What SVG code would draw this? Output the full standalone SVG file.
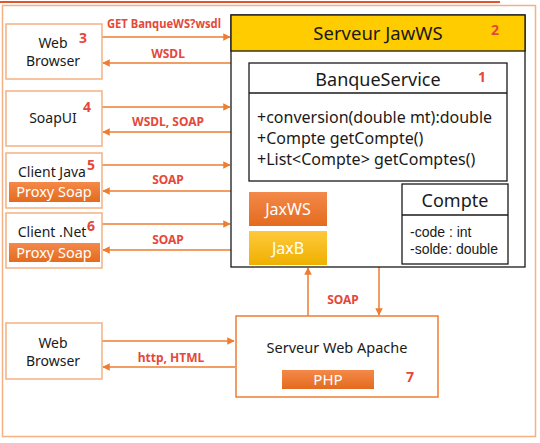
<svg xmlns="http://www.w3.org/2000/svg" width="540" height="443" viewBox="0 0 540 443">
<defs>
<style>
text{font-family:"Noto Sans","Open Sans","DejaVu Sans",sans-serif;fill:#1a1a1a}
.lbl{font-size:12px;font-weight:bold;fill:#e5483a;text-anchor:middle}
.num{font-size:14px;font-weight:bold;fill:#e5483a}
.nd{font-size:14px;text-anchor:middle}
.wt{fill:#ffffff;text-anchor:middle}
.cbox{fill:#ffffff;stroke:#f4b183;stroke-width:1.5}
.conn{stroke:#ed7d31;stroke-width:1.5;fill:none;marker-end:url(#ah)}
.blk{fill:#ffffff;stroke:#1a1a1a;stroke-width:1.3}
.attr{font-family:"Liberation Sans","Noto Sans",sans-serif;font-size:14px}
</style>
<marker id="ah" viewBox="0 0 10 10" refX="9" refY="5" markerWidth="5" markerHeight="5" orient="auto" markerUnits="strokeWidth">
<path d="M0,0 L10,5 L0,10 z" fill="#ed7d31"/>
</marker>
<linearGradient id="og" x1="0" y1="0" x2="0" y2="1">
<stop offset="0" stop-color="#f4894a"/>
<stop offset="1" stop-color="#e36b1e"/>
</linearGradient>
<linearGradient id="yg" x1="0" y1="0" x2="0" y2="1">
<stop offset="0" stop-color="#ffc93c"/>
<stop offset="1" stop-color="#eeb000"/>
</linearGradient>
</defs>
<rect x="0" y="0" width="540" height="443" fill="#ffffff"/>
<rect x="2.5" y="5.5" width="533" height="431" fill="#ffffff" stroke="#f4b183" stroke-width="1.5"/>
<line x1="0" y1="2" x2="500" y2="2" stroke="#e0552b" stroke-width="2"/>

<g id="connectors">
<line class="conn" x1="102" y1="37" x2="230" y2="37"/>
<line class="conn" x1="231" y1="63" x2="103" y2="63"/>
<line class="conn" x1="102" y1="107" x2="230" y2="107"/>
<line class="conn" x1="231" y1="132" x2="103" y2="132"/>
<line class="conn" x1="102" y1="165" x2="230" y2="165"/>
<line class="conn" x1="231" y1="191" x2="103" y2="191"/>
<line class="conn" x1="102" y1="224" x2="230" y2="224"/>
<line class="conn" x1="231" y1="250" x2="103" y2="250"/>
<line class="conn" x1="308" y1="316" x2="308" y2="268"/>
<line class="conn" x1="379" y1="267" x2="379" y2="315"/>
<line class="conn" x1="102" y1="341" x2="234" y2="341"/>
<line class="conn" x1="235" y1="367" x2="103" y2="367"/>
<text class="lbl" x="164" y="28" textLength="114" lengthAdjust="spacingAndGlyphs">GET BanqueWS?wsdl</text>
<text class="lbl" x="168" y="57.5">WSDL</text>
<text class="lbl" x="168" y="125.5">WSDL, SOAP</text>
<text class="lbl" x="168" y="183.5">SOAP</text>
<text class="lbl" x="168" y="243.5">SOAP</text>
<text class="lbl" x="343" y="303.5">SOAP</text>
<text class="lbl" x="171" y="361.5">http, HTML</text>
</g>

<g id="webbrowser1">
<rect class="cbox" x="6" y="24" width="96" height="55"/>
<text class="nd" x="53" y="48">Web</text>
<text class="nd" x="53" y="66">Browser</text>
<text class="num" x="79" y="43">3</text>
</g>

<g id="soapui">
<rect class="cbox" x="6" y="91" width="96" height="55"/>
<text class="nd" x="53" y="123">SoapUI</text>
<text class="num" x="83" y="112">4</text>
</g>

<g id="clientjava">
<rect class="cbox" x="6" y="153" width="96" height="55"/>
<text class="nd" x="52" y="177">Client Java</text>
<text class="num" x="87" y="170">5</text>
<rect x="9" y="182" width="91" height="20" fill="url(#og)"/>
<text class="wt" x="54" y="197" style="font-size:14.5px">Proxy Soap</text>
</g>

<g id="clientnet">
<rect class="cbox" x="6" y="213" width="96" height="55"/>
<text class="nd" x="52" y="237">Client .Net</text>
<text class="num" x="87" y="231">6</text>
<rect x="9" y="243" width="91" height="19" fill="url(#og)"/>
<text class="wt" x="54" y="257.5" style="font-size:14.5px">Proxy Soap</text>
</g>

<g id="serveurjawws">
<rect class="blk" x="231" y="15" width="294" height="252"/>
<rect x="231" y="15" width="294" height="36" fill="#ffcc00" stroke="#1a1a1a" stroke-width="1.3"/>
<text x="378" y="39.5" style="font-size:18.5px;text-anchor:middle">Serveur JawWS</text>
<text class="num" x="491" y="35">2</text>
</g>

<g id="banqueservice">
<rect class="blk" x="249" y="63" width="258" height="118"/>
<line x1="249" y1="93" x2="507" y2="93" stroke="#1a1a1a" stroke-width="1.3"/>
<text x="378" y="86" style="font-size:18px;text-anchor:middle">BanqueService</text>
<text class="num" x="478" y="82">1</text>
<text x="257" y="122.5" style="font-size:16px">+conversion(double mt):double</text>
<text x="257" y="143.5" style="font-size:16px">+Compte getCompte()</text>
<text x="257" y="164.5" style="font-size:16px">+List&lt;Compte&gt; getComptes()</text>
</g>

<g id="jaxws">
<rect x="249" y="192" width="78" height="34" fill="url(#og)"/>
<text class="wt" x="288" y="215" style="font-size:16px">JaxWS</text>
</g>

<g id="jaxb">
<rect x="249" y="231" width="78" height="34" fill="url(#yg)"/>
<text class="wt" x="288" y="254" style="font-size:16px">JaxB</text>
</g>

<g id="compte">
<rect class="blk" x="402" y="184" width="106" height="80"/>
<line x1="402" y1="215" x2="508" y2="215" stroke="#1a1a1a" stroke-width="1.3"/>
<text x="455" y="207" style="font-size:18px;text-anchor:middle">Compte</text>
<text class="attr" x="410" y="237">-code : int</text>
<text class="attr" x="410" y="253.5">-solde: double</text>
</g>

<g id="webbrowser2">
<rect class="cbox" x="6" y="323" width="96" height="56"/>
<text class="nd" x="53" y="348">Web</text>
<text class="nd" x="53" y="366">Browser</text>
</g>

<g id="apache">
<rect x="236" y="316" width="202" height="81" fill="#ffffff" stroke="#ed7d31" stroke-width="1.5"/>
<text x="337" y="353" style="font-size:14.5px;text-anchor:middle">Serveur Web Apache</text>
<rect x="282" y="370" width="92" height="19" fill="url(#og)"/>
<text class="wt" x="328" y="385" style="font-size:15px">PHP</text>
<text class="num" x="406" y="382">7</text>
</g>
</svg>
